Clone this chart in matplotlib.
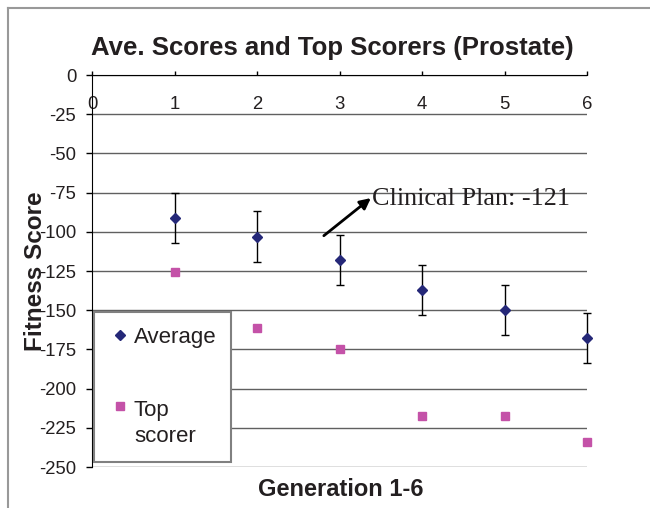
import matplotlib
matplotlib.use("Agg")
import matplotlib.pyplot as plt
from matplotlib.lines import Line2D
from matplotlib.legend_handler import HandlerLine2D

# Data
generations = [1, 2, 3, 4, 5, 6]
average = [-91, -103, -118, -137, -150, -167.5]
average_err = [16, 16, 16, 16, 16, 16]
top_scorer = [-125.5, -161.5, -175, -217.5, -217.5, -234]
y_ticks = [0, -25, -50, -75, -100, -125, -150, -175, -200, -225, -250]
x_ticks = [0, 1, 2, 3, 4, 5, 6]

# Annotation
note_text = "Clinical Plan: -121"
note_pos = (3.40, -82.6)
arrow_start = (2.81, -102.5)
arrow_end = (3.38, -78.5)

navy = "#252878"
magenta = "#C452A8"
ink = "#231f20"


class RaisedHandler(HandlerLine2D):
    # puts the marker on the first line of a two-line legend label
    def __init__(self, dy, **kw):
        super().__init__(**kw)
        self.dy = dy

    def create_artists(self, legend, orig_handle, xdescent, ydescent,
                       width, height, fontsize, trans):
        return super().create_artists(legend, orig_handle, xdescent,
                                      ydescent - self.dy, width, height,
                                      fontsize, trans)


plt.rcParams["font.family"] = ["Liberation Sans", "DejaVu Sans"]

fig = plt.figure(figsize=(6.5, 5.08), dpi=100)
ax = fig.add_axes([92 / 650, 1 - 467 / 508, 495 / 650, 392 / 508])

ax.set_xlim(0, 6)
ax.set_ylim(-250, 0)

# horizontal gridlines
ax.set_yticks(y_ticks)
ax.yaxis.grid(True, color="#606060", linewidth=1.0)
ax.set_axisbelow(True)

eb = ax.errorbar(generations, average, yerr=average_err, fmt="none",
                 ecolor="black", elinewidth=1.0, capsize=3, capthick=1.0, zorder=3)
for art in eb.lines[1] + eb.lines[2]:
    art.set_clip_on(False)
avg_line, = ax.plot(generations, average, "D", color=navy, ms=5.5,
                    label="Average", zorder=4, clip_on=False)
top_line, = ax.plot(generations, top_scorer, "s", color=magenta, ms=6,
                    label="Top\nscorer", zorder=4, clip_on=False)

# spines: y axis on left, x axis across the top at 0
for side in ["right", "bottom"]:
    ax.spines[side].set_visible(False)
ax.spines["left"].set_color("black")
ax.spines["top"].set_color("black")

ax.xaxis.set_ticks_position("top")
ax.set_xticks(x_ticks)
ax.set_xticklabels([str(v) for v in x_ticks])
ax.tick_params(axis="x", direction="out", length=3, width=1, pad=-30,
               labelsize=13.3, labelcolor=ink, top=True, labeltop=True,
               bottom=False, labelbottom=False)
ax.set_yticklabels([str(v) for v in y_ticks])
ax.tick_params(axis="y", direction="out", length=4.3, width=1, pad=7,
               labelsize=13.3, labelcolor=ink)

ax.set_xlabel("Generation 1-6", fontsize=17, fontweight="bold", color=ink)
ax.xaxis.set_label_position("bottom")
ax.xaxis.set_label_coords(0.502, -0.028)
ax.set_ylabel("Fitness Score", fontsize=17.5, fontweight="bold", color=ink)
ax.yaxis.set_label_coords(-0.091, 0.5)

ax.set_title("Ave. Scores and Top Scorers (Prostate)", fontsize=18.5,
             fontweight="bold", color=ink, x=0.486, y=1.051, pad=0)

ax.annotate("", xy=arrow_end, xytext=arrow_start,
            arrowprops=dict(arrowstyle="-|>", color="black", lw=2,
                            mutation_scale=16, shrinkA=0, shrinkB=0))
ax.text(note_pos[0], note_pos[1], note_text, fontsize=18.8, va="baseline",
        family=["Liberation Serif", "DejaVu Serif"], color=ink)

leg = ax.legend(handles=[avg_line, top_line],
                handler_map={top_line: RaisedHandler(dy=25.5)},
                loc="upper left", bbox_to_anchor=(0.004, 0.395),
                borderaxespad=0, borderpad=0.65, labelspacing=2.35,
                handlelength=1.0, handletextpad=0.15, fontsize=16,
                frameon=True, fancybox=False, framealpha=1,
                edgecolor="#808080", facecolor="white")
leg.get_frame().set_linewidth(1.5)
for t in leg.get_texts():
    t.set_color(ink)
    t.set_linespacing(1.35)

# outer chart border (left and top edges visible)
fig.add_artist(Line2D([8 / 650, 8 / 650], [0, 1 - 8 / 508],
                      color="#999999", lw=1.5, transform=fig.transFigure))
fig.add_artist(Line2D([8 / 650, 1], [1 - 8 / 508, 1 - 8 / 508],
                      color="#999999", lw=1.5, transform=fig.transFigure))

fig.savefig("out.png", dpi=100)
